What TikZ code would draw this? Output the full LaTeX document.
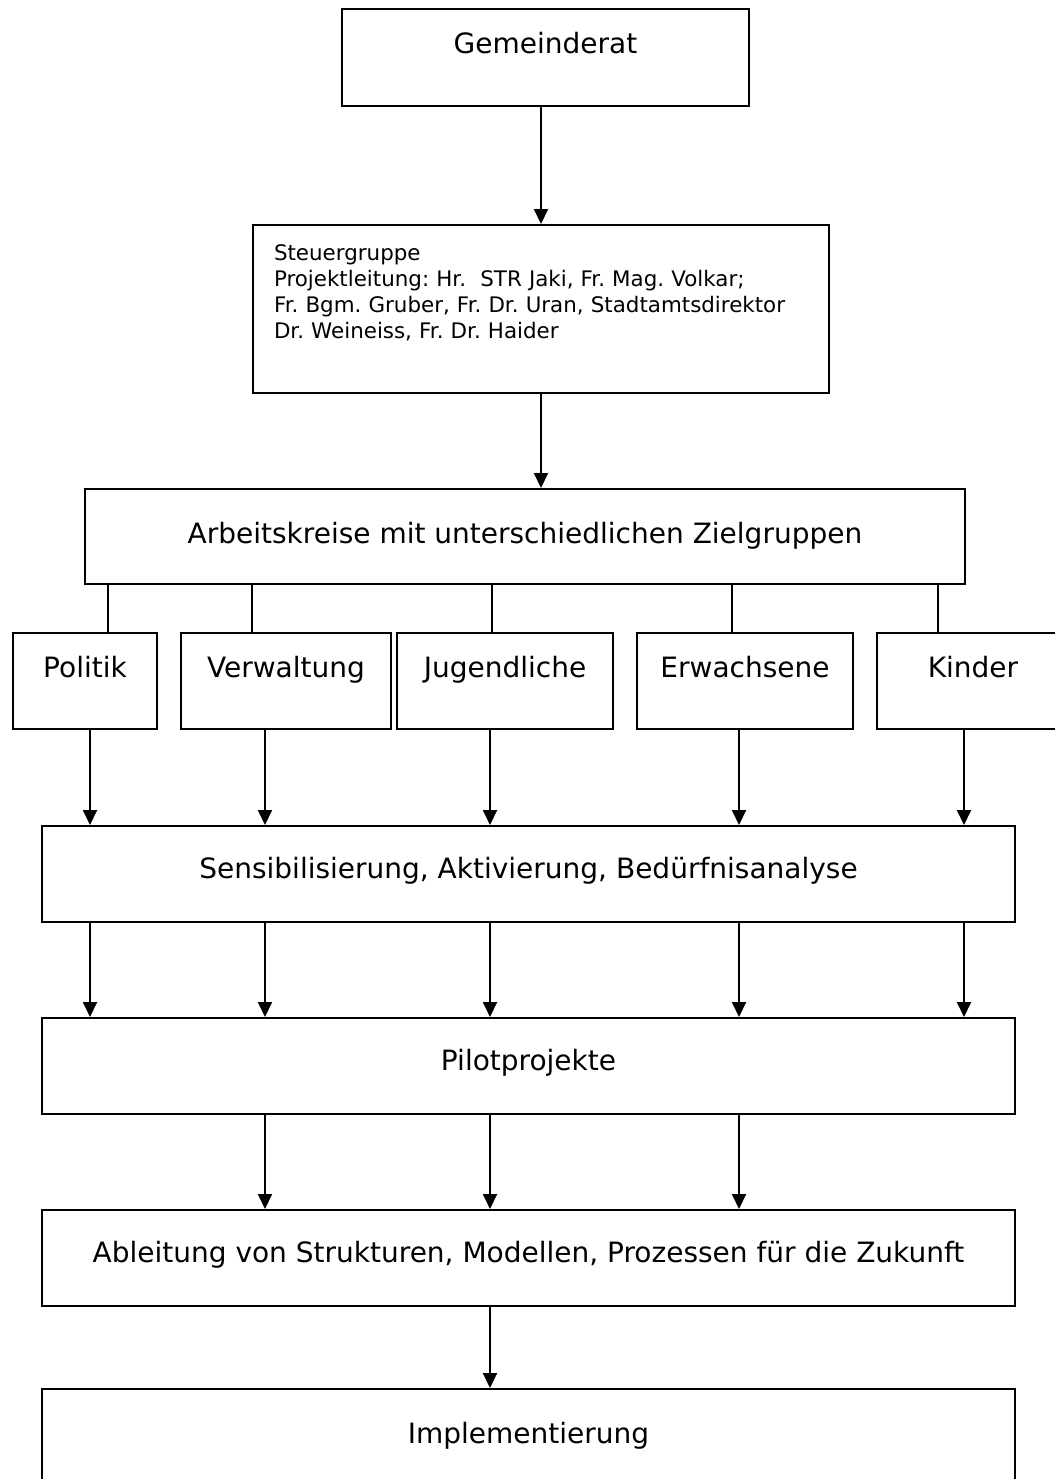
\documentclass[tikz,border=0pt]{standalone}
\usepackage{fontspec}
\setmainfont{DejaVu Sans}
\usetikzlibrary{arrows.meta}

\tikzset{
  box/.style={draw, line width=1pt, anchor=north west, inner sep=0pt,
    font=\fontsize{14}{17}\selectfont},
  catbox/.style={box, text height=22pt, text depth=26pt},
  widebox/.style={box, minimum width=486.5pt, text height=26pt, text depth=22pt},
  arr/.style={line width=1pt, -{Triangle[width=7pt,length=7.5pt]}},
  ln/.style={line width=1pt}
}

\begin{document}
\frenchspacing
\begin{tikzpicture}[x=0.5pt,y=-0.5pt]
    \useasboundingbox (0,0) rectangle (1055,1479);

    % columns of the connectors
    \coordinate (u1) at (108,0);
    \coordinate (u2) at (252,0);
    \coordinate (u3) at (492,0);
    \coordinate (u4) at (732,0);
    \coordinate (u5) at (938,0);
    \coordinate (c1) at (90,0);
    \coordinate (c2) at (265,0);
    \coordinate (c3) at (490,0);
    \coordinate (c4) at (739,0);
    \coordinate (c5) at (964,0);

    \node[box, minimum width=203.5pt, text height=22pt, text depth=26.5pt]
        (gemeinderat) at (341,8) {Gemeinderat};

    \node[box, text width=267pt, inner xsep=10.5pt, align=left,
        text height=17.5pt, text depth=66.5pt,
        font=\fontsize{10.7}{13}\selectfont]
        (steuer) at (252,224)
        {Steuergruppe\\
         Projektleitung: Hr.\ \ STR Jaki, Fr. Mag. Volkar;\\
         Fr. Bgm. Gruber, Fr. Dr. Uran, Stadtamtsdirektor\\
         Dr. Weineiss, Fr. Dr. Haider};

    \node[box, minimum width=440pt, text height=27pt, text depth=20.5pt]
        (arbeit) at (84,488) {Arbeitskreise mit unterschiedlichen Zielgruppen};

    \node[catbox, minimum width=72pt]  (politik)    at (12,632)  {Politik};
    \node[catbox, minimum width=105pt] (verwaltung) at (180,632) {Verwaltung};
    \node[catbox, minimum width=108pt] (jugend)     at (396,632) {Jugendliche};
    \node[catbox, minimum width=108pt] (erwachsene) at (636,632) {Erwachsene};
    \node[catbox, minimum width=96pt]  (kinder)     at (876,632) {Kinder};

    \node[widebox] (sensib) at (41,825)  {Sensibilisierung, Aktivierung, Bedürfnisanalyse};
    \node[widebox] (pilot)  at (41,1017) {Pilotprojekte};
    \node[widebox] (ableit) at (41,1209) {Ableitung von Strukturen, Modellen, Prozessen für die Zukunft};
    \node[widebox, text height=27pt, text depth=21pt]
        (implem) at (41,1388) {Implementierung};

    \draw[arr] (gemeinderat.south -| steuer.north) -- (steuer.north);
    \draw[arr] (steuer.south) -- (steuer.south |- arbeit.north);

    \draw[ln] (arbeit.south -| u1) -- (politik.north -| u1);
    \draw[ln] (arbeit.south -| u2) -- (verwaltung.north -| u2);
    \draw[ln] (arbeit.south -| u3) -- (jugend.north -| u3);
    \draw[ln] (arbeit.south -| u4) -- (erwachsene.north -| u4);
    \draw[ln] (arbeit.south -| u5) -- (kinder.north -| u5);

    \draw[arr] (politik.south -| c1) -- (sensib.north -| c1);
    \draw[arr] (verwaltung.south -| c2) -- (sensib.north -| c2);
    \draw[arr] (jugend.south -| c3) -- (sensib.north -| c3);
    \draw[arr] (erwachsene.south -| c4) -- (sensib.north -| c4);
    \draw[arr] (kinder.south -| c5) -- (sensib.north -| c5);

    \draw[arr] (sensib.south -| c1) -- (pilot.north -| c1);
    \draw[arr] (sensib.south -| c2) -- (pilot.north -| c2);
    \draw[arr] (sensib.south -| c3) -- (pilot.north -| c3);
    \draw[arr] (sensib.south -| c4) -- (pilot.north -| c4);
    \draw[arr] (sensib.south -| c5) -- (pilot.north -| c5);

    \draw[arr] (pilot.south -| c2) -- (ableit.north -| c2);
    \draw[arr] (pilot.south -| c3) -- (ableit.north -| c3);
    \draw[arr] (pilot.south -| c4) -- (ableit.north -| c4);

    \draw[arr] (ableit.south -| c3) -- (implem.north -| c3);

\end{tikzpicture}
\end{document}
